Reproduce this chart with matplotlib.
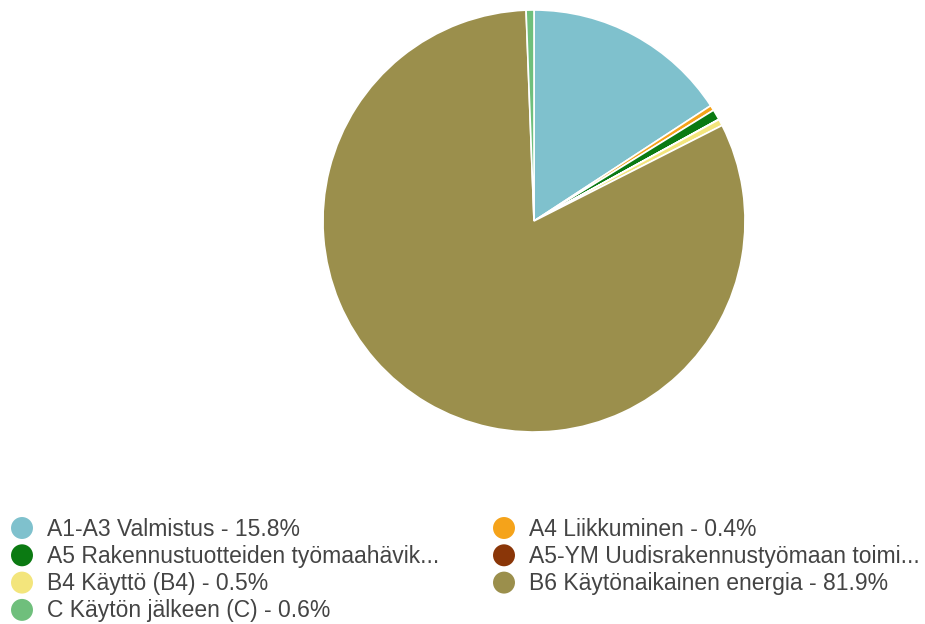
import matplotlib
matplotlib.use("Agg")
import matplotlib.pyplot as plt

labels = ["A1-A3 Valmistus", "A4 Liikkuminen", "A5 Rakennustuotteiden työmaahävikki",
          "A5-YM Uudisrakennustyömaan toiminnot", "B4 Käyttö (B4)",
          "B6 Käytönaikainen energia", "C Käytön jälkeen (C)"]
values = [15.8, 0.4, 0.8, 0.02, 0.5, 81.9, 0.6]
legend_texts = ["A1-A3 Valmistus - 15.8%", "A4 Liikkuminen - 0.4%",
                "A5 Rakennustuotteiden työmaahävik...", "A5-YM Uudisrakennustyömaan toimi...",
                "B4 Käyttö (B4) - 0.5%", "B6 Käytönaikainen energia - 81.9%",
                "C Käytön jälkeen (C) - 0.6%"]
colors = ["#7fc1cd", "#f5a31a", "#0b7a12", "#8a3608", "#f3e57c", "#9b8f4c", "#6fbf7c"]

W, H = 925, 624
fig = plt.figure(figsize=(W / 100, H / 100), dpi=100)
plt.rcParams['font.family'] = ['Liberation Sans', 'DejaVu Sans']

cx, cy, r = 534, 221, 211
ax = fig.add_axes([(cx - r) / W, (H - cy - r) / H, 2 * r / W, 2 * r / H])
ax.pie(values, colors=colors, startangle=90, counterclock=False, radius=1,
       wedgeprops=dict(edgecolor="white", linewidth=1.2))
ax.set_xlim(-1, 1)
ax.set_ylim(-1, 1)
ax.axis("off")

# legend drawn in pixel coordinates
lax = fig.add_axes([0, 0, 1, 1])
lax.set_xlim(0, W)
lax.set_ylim(H, 0)
lax.axis("off")
col_x = [22, 504]
row_y0, row_dy = 528, 27.3
for i, (t, c) in enumerate(zip(legend_texts, colors)):
    row, col = divmod(i, 2)
    y = row_y0 + row * row_dy
    lax.scatter([col_x[col]], [y], s=250, color=c, edgecolors="none")
    lax.text(col_x[col] + 25, y + 1, t, fontsize=16.5, color="#444444",
             va="center", ha="left")

fig.savefig("out.png", dpi=100)
